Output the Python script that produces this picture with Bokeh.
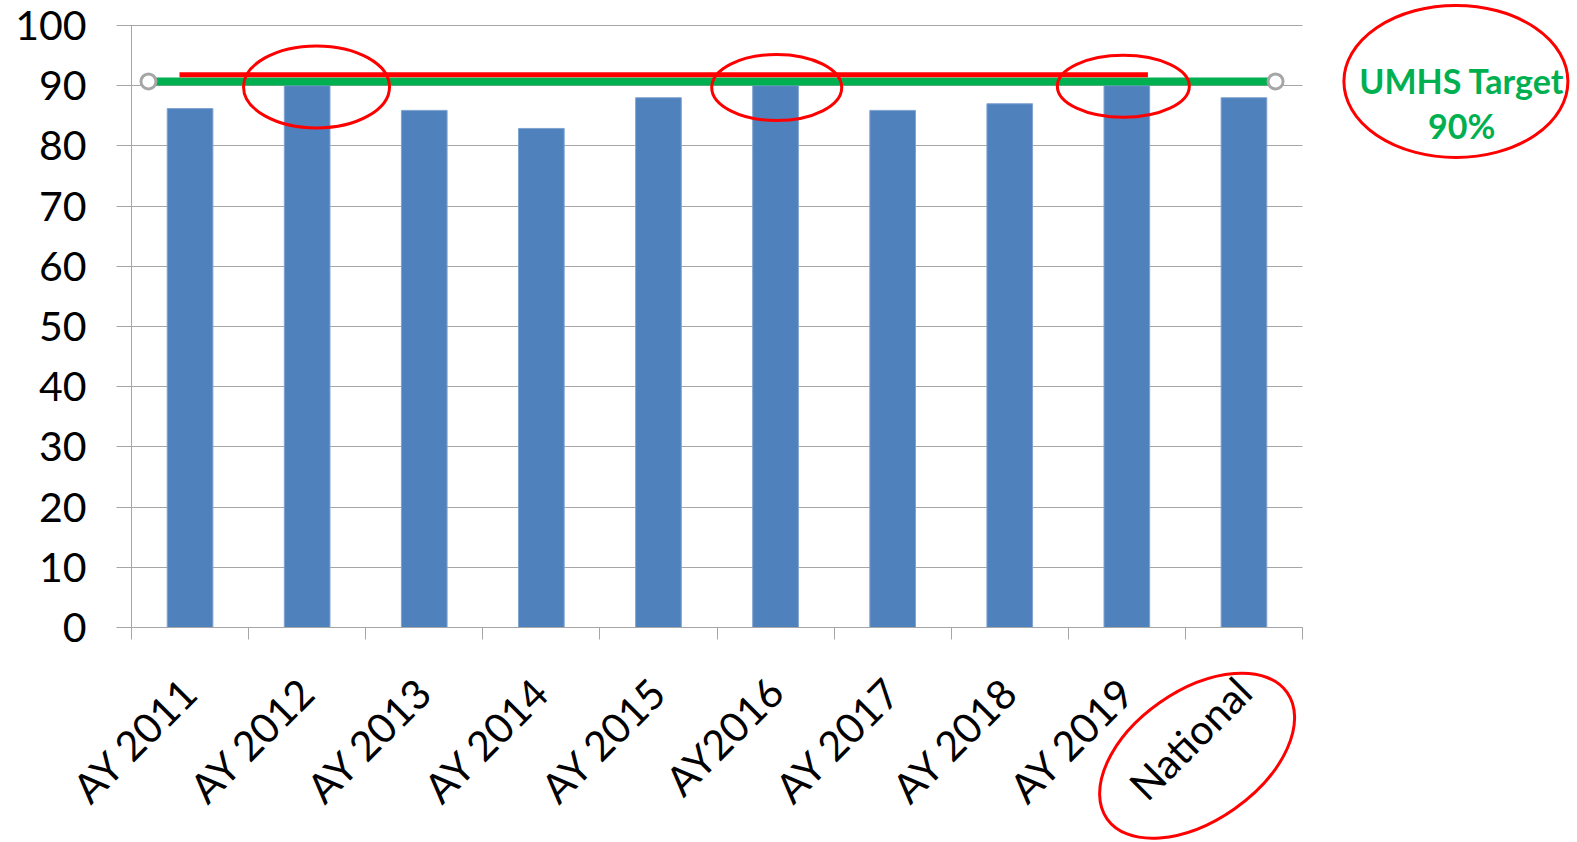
import numpy as np
from bokeh.plotting import figure
from bokeh.models import Range1d, FixedTicker, Label
from bokeh.embed import file_html
from bokeh.resources import INLINE

# ---------------- data ----------------
categories = ["AY 2011", "AY 2012", "AY 2013", "AY 2014", "AY 2015",
              "AY2016", "AY 2017", "AY 2018", "AY 2019", "National"]
values = [86.2, 90.0, 85.9, 82.9, 88.0, 90.0, 85.9, 87.0, 90.0, 88.0]
y_ticks = [0, 10, 20, 30, 40, 50, 60, 70, 80, 90, 100]
target_value = 90.7
upper_line_value = 91.8
target_text = ["UMHS Target", "90%"]

# ---------------- geometry / style ----------------
FIG_W, FIG_H = 1570, 840
AX_LEFT_PX, AX_TOP_PX = 131, 25        # where x=0 and y=100 fall on the canvas
PLOT_W_PX, PLOT_H_PX = 1171, 602       # size of the category / value area
N = len(categories)
PX_X = PLOT_W_PX / N
PX_Y = PLOT_H_PX / 100.0
x_lo = -AX_LEFT_PX / PX_X
x_hi = x_lo + FIG_W / PX_X
y_hi = 100 + AX_TOP_PX / PX_Y
y_lo = y_hi - FIG_H / PX_Y

BAR_COLOR = "#4F81BD"
GREEN = "#00B050"
RED = "#FF0000"
GRID = "#A6A6A6"
FONT = "Lato"

p = figure(width=FIG_W, height=FIG_H, x_range=Range1d(x_lo, x_hi), y_range=Range1d(y_lo, y_hi),
           output_backend="svg", toolbar_location=None,
           min_border_left=0, min_border_right=0, min_border_top=0, min_border_bottom=0)
p.outline_line_color = None
p.background_fill_color = "white"
p.border_fill_color = "white"
p.grid.visible = False

centers = np.arange(N) + 0.5

# y axis (its inward ticks act as the horizontal gridlines, drawn beneath the bars)
ya = p.yaxis[0]
ya.level = "underlay"
ya.fixed_location = 0
ya.bounds = (0, 100)
ya.ticker = FixedTicker(ticks=y_ticks)
ya.axis_line_color = GRID
ya.major_tick_line_color = GRID
ya.major_tick_out = 15
ya.major_tick_in = PLOT_W_PX
ya.minor_tick_line_color = None
ya.major_label_text_font = FONT
ya.major_label_text_font_size = "41px"
ya.major_label_text_color = "black"
ya.major_label_standoff = 30

# bars
p.vbar(x=centers, top=values, width=0.39, fill_color=BAR_COLOR, line_color="#7FA3D1", line_width=1)

# target line (green) with end markers, red line
tx0, tx1 = 0.145, 9.77
p.segment(x0=[tx0], y0=[target_value], x1=[tx1], y1=[target_value],
          line_color=GREEN, line_width=8)
p.segment(x0=[0.41], y0=[upper_line_value], x1=[8.68], y1=[upper_line_value],
          line_color=RED, line_width=5)
p.scatter(x=[tx0, tx1], y=[target_value, target_value], size=15,
          fill_color="white", line_color=GRID, line_width=3)

# highlight ellipses
p.ellipse(x=[1.58, 5.51, 8.47, 11.31, 9.10],
          y=[89.8, 89.7, 89.9, 90.7, -21.3],
          width=[146, 130, 132, 224, 220], height=[82, 66, 62, 152, 130],
          angle=[0, 0, 0, 0, np.radians(35)],
          width_units="screen", height_units="screen",
          fill_color=None, line_color=RED, line_width=3)

p.add_layout(Label(x=11.36, y=90.8, text=target_text[0], text_align="center",
                   text_baseline="middle", text_color=GREEN, text_font=FONT,
                   text_font_style="bold", text_font_size="34px"))
p.add_layout(Label(x=11.36, y=83.4, text=target_text[1], text_align="center",
                   text_baseline="middle", text_color=GREEN, text_font=FONT,
                   text_font_style="bold", text_font_size="34px"))

# x axis
xa = p.xaxis[0]
xa.fixed_location = 0
xa.bounds = (0, N)
xa.ticker = FixedTicker(ticks=list(centers), minor_ticks=list(range(N + 1)))
xa.major_label_overrides = {float(c): lab for c, lab in zip(centers, categories)}
xa.axis_line_color = GRID
xa.major_tick_line_color = None
xa.major_tick_out = 0
xa.major_tick_in = 0
xa.minor_tick_line_color = GRID
xa.minor_tick_out = 12
xa.minor_tick_in = 0
xa.major_label_orientation = np.pi / 4
xa.major_label_text_font = FONT
xa.major_label_text_font_size = "41px"
xa.major_label_text_color = "black"
xa.major_label_standoff = 45

open("out.html", "w").write(file_html(p, INLINE))
